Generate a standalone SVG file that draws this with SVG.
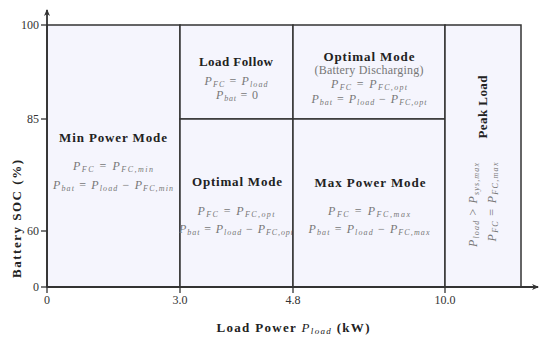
<svg xmlns="http://www.w3.org/2000/svg" width="550" height="347" viewBox="0 0 550 347">
<defs>
<marker id="arr" markerWidth="8" markerHeight="8" refX="6" refY="4" orient="auto" markerUnits="userSpaceOnUse">
<path d="M0,1 L7,4 L0,7 L2,4 Z" fill="#333"/>
</marker>
<style>
.cell{fill:#f5f5fd;stroke:#333;stroke-width:1.5}
.t{font-family:"Liberation Serif","DejaVu Serif",serif;font-weight:bold;font-size:13px;fill:#222;text-anchor:middle}
.f{font-family:"Liberation Serif","DejaVu Serif",serif;font-size:12px;fill:#777;text-anchor:middle}
.i{font-style:italic}
.s{font-style:italic;font-size:8px}
.n{font-family:"Liberation Serif","DejaVu Serif",serif;font-size:12px;fill:#333}
.ax{stroke:#333;stroke-width:1.8;fill:none}
.tk{stroke:#333;stroke-width:1.3}
</style>
</defs>
<rect width="550" height="347" fill="#fff"/>

<g id="min-power">
<rect class="cell" x="47" y="25" width="133" height="262"/>
<text class="t" x="113" y="142" textLength="108">Min Power Mode</text>
<text class="f" x="113" y="170" textLength="80"><tspan class="i">P</tspan><tspan class="s" dy="1.5">FC</tspan><tspan dy="-1.5"> = </tspan><tspan class="i">P</tspan><tspan class="s" dy="1.5">FC,min</tspan></text>
<text class="f" x="113" y="189" textLength="120"><tspan class="i">P</tspan><tspan class="s" dy="1.5">bat</tspan><tspan dy="-1.5"> = </tspan><tspan class="i">P</tspan><tspan class="s" dy="1.5">load</tspan><tspan dy="-1.5"> − </tspan><tspan class="i">P</tspan><tspan class="s" dy="1.5">FC,min</tspan></text>
</g>

<g id="load-follow">
<rect class="cell" x="180" y="25" width="113" height="94"/>
<text class="t" x="236" y="66" textLength="74">Load Follow</text>
<text class="f" x="236" y="85" textLength="63"><tspan class="i">P</tspan><tspan class="s" dy="1.5">FC</tspan><tspan dy="-1.5"> = </tspan><tspan class="i">P</tspan><tspan class="s" dy="1.5">load</tspan></text>
<text class="f" x="237" y="99" textLength="42"><tspan class="i">P</tspan><tspan class="s" dy="1.5">bat</tspan><tspan dy="-1.5"> = 0</tspan></text>
</g>

<g id="optimal-low">
<rect class="cell" x="180" y="119" width="113" height="168"/>
<text class="t" x="237" y="186" textLength="90">Optimal Mode</text>
<text class="f" x="236" y="215" textLength="77"><tspan class="i">P</tspan><tspan class="s" dy="1.5">FC</tspan><tspan dy="-1.5"> = </tspan><tspan class="i">P</tspan><tspan class="s" dy="1.5">FC,opt</tspan></text>
<text class="f" x="236" y="233" textLength="114"><tspan class="i">P</tspan><tspan class="s" dy="1.5">bat</tspan><tspan dy="-1.5"> = </tspan><tspan class="i">P</tspan><tspan class="s" dy="1.5">load</tspan><tspan dy="-1.5"> − </tspan><tspan class="i">P</tspan><tspan class="s" dy="1.5">FC,opt</tspan></text>
</g>

<g id="optimal-discharging">
<rect class="cell" x="293" y="25" width="152" height="94"/>
<text class="t" x="369" y="61" textLength="91">Optimal Mode</text>
<text class="f" x="369" y="74" font-size="11" textLength="109">(Battery Discharging)</text>
<text class="f" x="369" y="88" textLength="76"><tspan class="i">P</tspan><tspan class="s" dy="1.5">FC</tspan><tspan dy="-1.5"> = </tspan><tspan class="i">P</tspan><tspan class="s" dy="1.5">FC,opt</tspan></text>
<text class="f" x="369" y="103" textLength="115"><tspan class="i">P</tspan><tspan class="s" dy="1.5">bat</tspan><tspan dy="-1.5"> = </tspan><tspan class="i">P</tspan><tspan class="s" dy="1.5">load</tspan><tspan dy="-1.5"> − </tspan><tspan class="i">P</tspan><tspan class="s" dy="1.5">FC,opt</tspan></text>
</g>

<g id="max-power">
<rect class="cell" x="293" y="119" width="152" height="168"/>
<text class="t" x="370" y="187" textLength="111">Max Power Mode</text>
<text class="f" x="369" y="215" textLength="82"><tspan class="i">P</tspan><tspan class="s" dy="1.5">FC</tspan><tspan dy="-1.5"> = </tspan><tspan class="i">P</tspan><tspan class="s" dy="1.5">FC,max</tspan></text>
<text class="f" x="369" y="233" textLength="121"><tspan class="i">P</tspan><tspan class="s" dy="1.5">bat</tspan><tspan dy="-1.5"> = </tspan><tspan class="i">P</tspan><tspan class="s" dy="1.5">load</tspan><tspan dy="-1.5"> − </tspan><tspan class="i">P</tspan><tspan class="s" dy="1.5">FC,max</tspan></text>
</g>

<g id="peak-load">
<rect class="cell" x="445" y="25" width="76" height="262"/>
<text class="t" transform="translate(487,107) rotate(-90)" x="0" y="0" textLength="63">Peak Load</text>
<text class="f" transform="translate(477,205) rotate(-90)" x="0" y="0" font-size="12" textLength="84"><tspan class="i">P</tspan><tspan class="s" dy="1.5">load</tspan><tspan dy="-1.5"> &gt; </tspan><tspan class="i">P</tspan><tspan class="s" dy="1.5">sys,max</tspan></text>
<text class="f" transform="translate(496,202) rotate(-90)" x="0" y="0" font-size="12" textLength="79"><tspan class="i">P</tspan><tspan class="s" dy="1.5">FC</tspan><tspan dy="-1.5"> = </tspan><tspan class="i">P</tspan><tspan class="s" dy="1.5">FC,max</tspan></text>
</g>

<g id="axes">
<line class="ax" x1="47" y1="287" x2="47" y2="10" marker-end="url(#arr)"/>
<line class="ax" x1="47" y1="287" x2="538" y2="287" marker-end="url(#arr)"/>
<line class="tk" x1="41" y1="25" x2="47" y2="25"/>
<line class="tk" x1="41" y1="119" x2="47" y2="119"/>
<line class="tk" x1="41" y1="231" x2="47" y2="231"/>
<line class="tk" x1="41" y1="287" x2="47" y2="287"/>
<line class="tk" x1="47" y1="287" x2="47" y2="293"/>
<line class="tk" x1="180" y1="287" x2="180" y2="293"/>
<line class="tk" x1="293" y1="287" x2="293" y2="293"/>
<line class="tk" x1="445" y1="287" x2="445" y2="293"/>
<text class="n" x="39" y="29" text-anchor="end">100</text>
<text class="n" x="39" y="123" text-anchor="end">85</text>
<text class="n" x="39" y="235" text-anchor="end">60</text>
<text class="n" x="39" y="291" text-anchor="end">0</text>
<text class="n" x="47" y="304" text-anchor="middle">0</text>
<text class="n" x="180" y="304" text-anchor="middle">3.0</text>
<text class="n" x="293" y="304" text-anchor="middle">4.8</text>
<text class="n" x="445" y="304" text-anchor="middle">10.0</text>
<text class="t" transform="translate(21,219) rotate(-90)" x="0" y="0" textLength="118">Battery SOC (%)</text>
<text class="t" x="293" y="332" textLength="153">Load Power <tspan font-weight="normal" font-style="italic">P</tspan><tspan font-weight="normal" font-style="italic" font-size="9" dy="2">load</tspan><tspan dy="-2"> (kW)</tspan></text>
</g>
</svg>
